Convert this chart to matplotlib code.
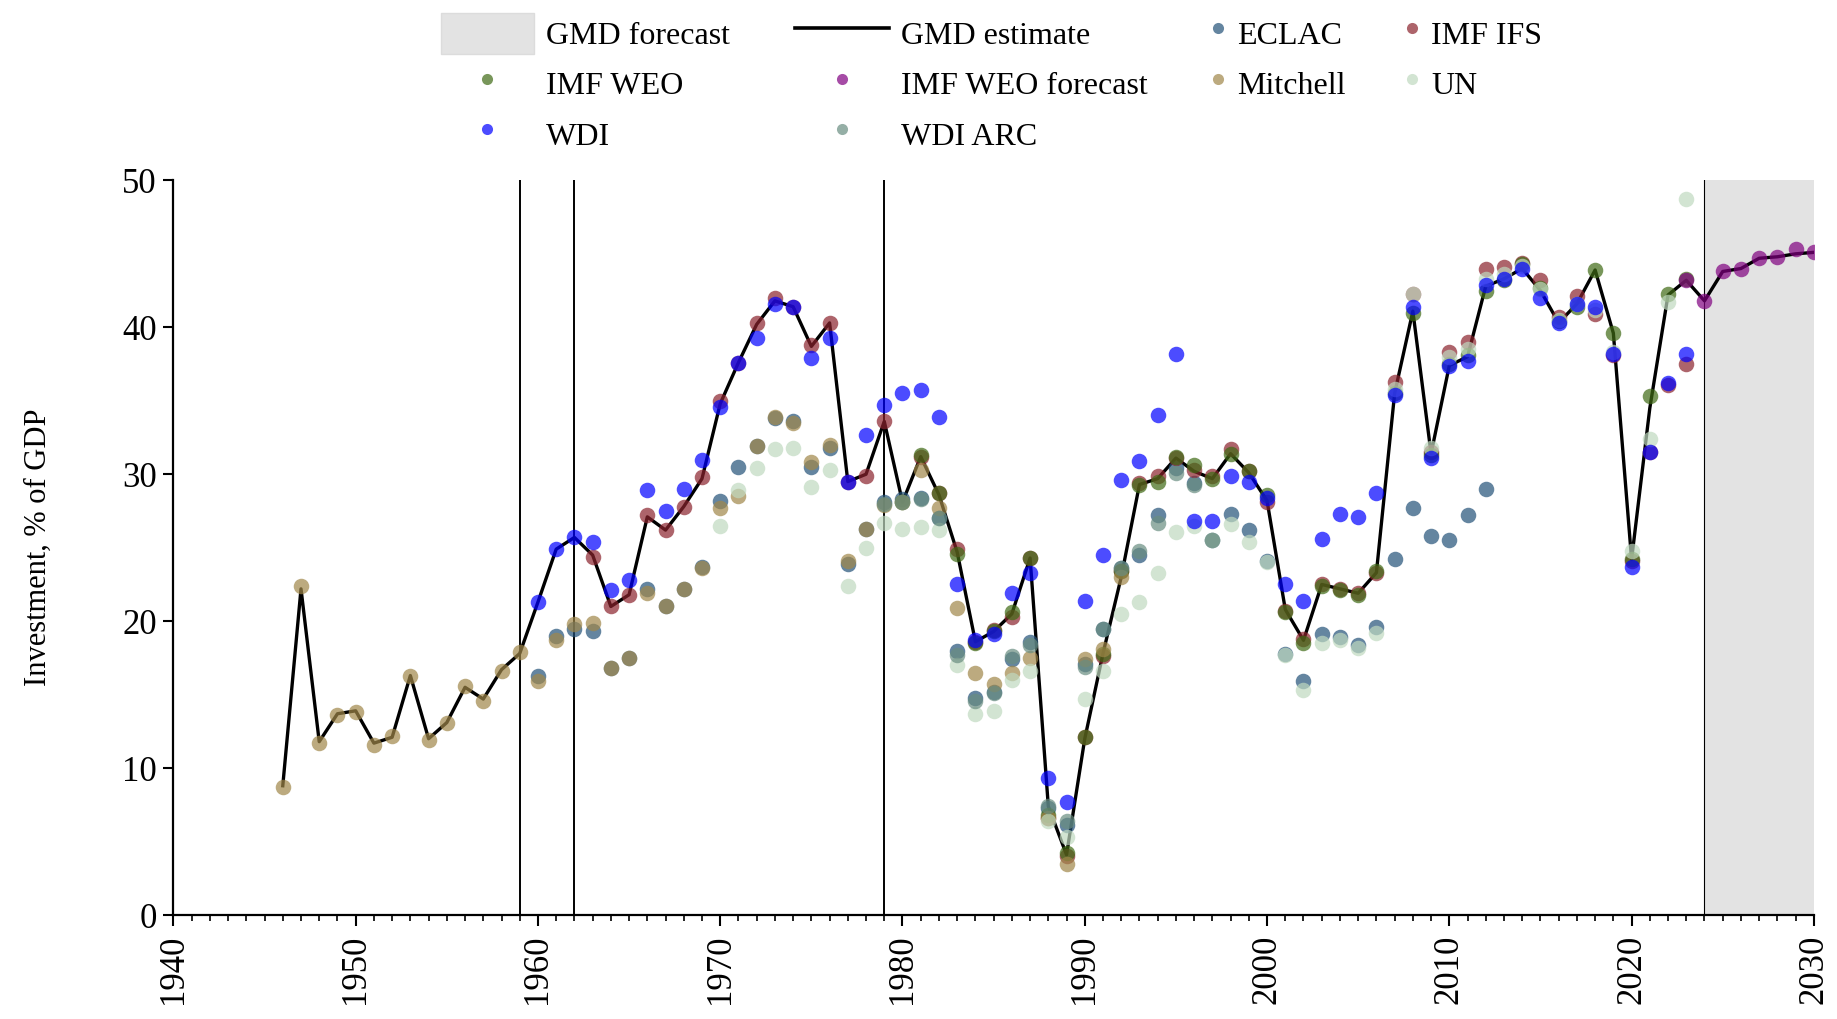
import matplotlib
matplotlib.use("Agg")
import matplotlib.pyplot as plt
from matplotlib.lines import Line2D
from matplotlib.patches import Patch

plt.rcParams["font.family"] = ["Liberation Serif", "DejaVu Serif"]

# -------------------------
# Data (investment, % of GDP)
# -------------------------

gmd_years = list(range(1946, 2031))
gmd_values = [
    8.8, 22.2, 11.8, 13.7, 13.9, 11.7, 12.1, 16.3, 12.0, 13.1,
    15.5, 14.7, 16.7, 17.8, 21.3, 24.9, 25.7, 24.5, 21.0, 21.8,
    27.1, 26.2, 27.8, 29.7, 34.8, 37.6, 40.2, 41.8, 41.4, 38.7,
    40.3, 29.5, 30.0, 33.6, 28.1, 31.2, 28.6, 24.7, 18.6, 19.3,
    20.5, 24.3, 7.4, 4.1, 12.0, 17.8, 23.0, 29.3, 29.7, 31.1,
    30.2, 29.7, 31.4, 30.1, 28.2, 20.8, 18.7, 22.5, 22.2, 21.9,
    23.3, 35.5, 41.1, 31.4, 37.4, 38.0, 42.8, 43.3, 44.0, 42.5,
    40.3, 41.6, 43.9, 39.6, 24.2, 34.5, 42.2, 43.2, 41.8, 43.8,
    44.0, 44.7, 44.8, 45.0, 45.1,
]

eclac_years = list(range(1960, 2013))
eclac_values = [
    16.3, 19.0, 19.5, 19.3, 16.8, 17.5, 22.2, 21.0, 22.2, 23.7,
    28.2, 30.5, 31.9, 33.8, 33.6, 30.5, 31.8, 23.9, 26.3, 28.1,
    28.3, 28.4, 27.0, 18.0, 14.8, 15.2, 17.4, 18.6, 7.3, 6.1,
    17.1, 19.5, 23.6, 24.5, 27.2, 30.4, 29.4, 25.5, 27.3, 26.2,
    24.1, 17.8, 15.9, 19.1, 18.9, 18.4, 19.6, 24.2, 27.7, 25.8,
    25.5, 27.2, 29.0,
]

ifs_years = [1963, 1964, 1965, 1966, 1967, 1968, 1969, 1970, 1971, 1972,
             1973, 1974, 1975, 1976, 1977, 1978, 1979] + list(range(1981, 2024))
ifs_values = [
    24.4, 21.0, 21.8, 27.2, 26.2, 27.8, 29.8, 35.0, 37.6, 40.3,
    42.0, 41.4, 38.8, 40.3, 29.5, 29.9, 33.6,
    31.2, 28.7, 24.9, 18.6, 19.4, 20.3, 24.3, 6.6, 4.0, 12.1,
    17.6, 23.4, 29.4, 29.9, 31.1, 30.3, 29.9, 31.7, 30.2, 28.1,
    20.7, 18.8, 22.5, 22.2, 21.9, 23.3, 36.3, 42.3, 31.5, 38.3,
    39.0, 44.0, 44.1, 44.4, 43.2, 40.7, 42.1, 40.9, 38.1, 24.1,
    31.5, 36.1, 37.5,
]

weo_years = list(range(1980, 2024))
weo_values = [
    28.1, 31.3, 28.7, 24.6, 18.5, 19.3, 20.6, 24.3, 6.8, 4.2,
    12.1, 17.8, 23.4, 29.3, 29.5, 31.2, 30.6, 29.7, 31.4, 30.2,
    28.6, 20.6, 18.5, 22.4, 22.1, 21.8, 23.4, 35.5, 41.0, 31.3,
    37.5, 38.1, 42.5, 43.2, 44.3, 42.7, 40.4, 41.4, 43.9, 39.6,
    24.2, 35.3, 42.3, 43.3,
]

weo_fc_years = list(range(2023, 2031))
weo_fc_values = [43.2, 41.8, 43.8, 44.0, 44.7, 44.8, 45.3, 45.1]

mitchell_years = list(range(1946, 1993))
mitchell_values = [
    8.7, 22.4, 11.7, 13.6, 13.8, 11.6, 12.2, 16.3, 11.9, 13.1,
    15.6, 14.6, 16.6, 17.9, 15.9, 18.7, 19.8, 19.9, 16.8, 17.5,
    21.9, 21.0, 22.2, 23.6, 27.7, 28.5, 31.9, 33.9, 33.5, 30.8,
    32.0, 24.1, 26.3, 27.9, 28.1, 30.3, 27.7, 20.9, 16.5, 15.7,
    16.5, 17.5, 6.6, 3.5, 17.4, 18.1, 23.0,
]

un_years = list(range(1970, 2024))
un_values = [
    26.5, 28.9, 30.4, 31.7, 31.8, 29.1, 30.3, 22.4, 25.0, 26.7,
    26.3, 26.4, 26.2, 17.0, 13.7, 13.9, 16.0, 16.6, 6.4, 5.3,
    14.7, 16.6, 20.5, 21.3, 23.3, 26.1, 26.5, 25.5, 26.6, 25.4,
    24.0, 17.7, 15.3, 18.5, 18.7, 18.2, 19.2, 35.8, 42.3, 31.8,
    38.0, 38.5, 43.3, 43.6, 44.2, 42.6, 40.5, 41.6, 41.2, 38.3,
    24.8, 32.4, 41.7, 48.7,
]

wdi_years = list(range(1960, 2024))
wdi_values = [
    21.3, 24.9, 25.7, 25.4, 22.1, 22.8, 28.9, 27.5, 29.0, 31.0,
    34.6, 37.6, 39.3, 41.6, 41.4, 37.9, 39.3, 29.5, 32.7, 34.7,
    35.5, 35.7, 33.9, 22.5, 18.7, 19.1, 21.9, 23.3, 9.3, 7.7,
    21.4, 24.5, 29.6, 30.9, 34.0, 38.2, 26.8, 26.8, 29.9, 29.5,
    28.4, 22.5, 21.4, 25.6, 27.3, 27.1, 28.7, 35.4, 41.4, 31.1,
    37.4, 37.7, 42.9, 43.3, 44.0, 42.0, 40.3, 41.6, 41.4, 38.2,
    23.7, 31.5, 36.2, 38.2,
]

wdi_arc_years = list(range(1979, 1998))
wdi_arc_values = [
    28.0, 28.1, 28.3, 27.0, 17.7, 14.6, 15.1, 17.6, 18.4, 7.4,
    6.4, 16.9, 19.5, 23.6, 24.8, 26.7, 30.1, 29.3, 25.5,
]

break_years = [1959, 1962, 1979]
forecast_start = 2024
forecast_end = 2030

# -------------------------
# Plot
# -------------------------

fig = plt.figure(figsize=(18.37, 10.19), dpi=100)
ax = fig.add_axes([0.0944, 0.102, 0.893, 0.721])

ax.axvspan(forecast_start, forecast_end, color="#e3e3e3", lw=0, zorder=0)
ax.axvline(forecast_start, color="black", lw=0.8, zorder=1)
for yr in break_years:
    ax.axvline(yr, color="black", lw=1.4, zorder=1)

ax.plot(gmd_years, gmd_values, color="black", lw=2.4, zorder=2)

series = [
    ("ECLAC", eclac_years, eclac_values, "#235178"),
    ("IMF IFS", ifs_years, ifs_values, "#8b232d"),
    ("IMF WEO", weo_years, weo_values, "#3f6a14"),
    ("IMF WEO forecast", weo_fc_years, weo_fc_values, "#800080"),
    ("Mitchell", mitchell_years, mitchell_values, "#a08749"),
    ("UN", un_years, un_values, "#bfd9bf"),
    ("WDI", wdi_years, wdi_values, "#0000ff"),
    ("WDI ARC", wdi_arc_years, wdi_arc_values, "#698d80"),
]

for name, xs, ys, col in series:
    ax.scatter(xs, ys, s=125, color=col, alpha=0.7, lw=0, zorder=3)

ax.set_xlim(1940, 2030)
ax.set_ylim(0, 50)
ax.set_xticks(range(1940, 2031, 10))
ax.set_xticks(range(1940, 2031), minor=True)
ax.set_yticks(range(0, 51, 10))
ax.tick_params(axis="x", which="major", labelsize=25, length=8, width=1.5,
               rotation=90, pad=6)
ax.tick_params(axis="x", which="minor", length=4, width=1.2)
ax.tick_params(axis="y", which="major", labelsize=25, length=7, width=1.5, pad=5)

for side in ["top", "right"]:
    ax.spines[side].set_visible(False)
for side in ["left", "bottom"]:
    ax.spines[side].set_linewidth(1.6)

ax.set_ylabel("Investment, % of GDP", fontsize=22, labelpad=50)

# -------------------------
# Legend: one block per column
# -------------------------

colors = {name: col for name, xs, ys, col in series}


def dot(name):
    return Line2D([], [], ls="none", marker="o", markersize=8,
                  markerfacecolor=colors[name], markeredgewidth=0, alpha=0.7)


columns = [
    (0.2398, 2.94, [(Patch(facecolor="#e3e3e3", edgecolor="#dcdcdc"), "GMD forecast"),
                    (dot("IMF WEO"), "IMF WEO"),
                    (dot("WDI"), "WDI")]),
    (0.4330, 2.94, [(Line2D([], [], color="black", lw=2.6), "GMD estimate"),
                    (dot("IMF WEO forecast"), "IMF WEO forecast"),
                    (dot("WDI ARC"), "WDI ARC")]),
    (0.6587, 0.5, [(dot("ECLAC"), "ECLAC"),
                   (dot("Mitchell"), "Mitchell")]),
    (0.7643, 0.5, [(dot("IMF IFS"), "IMF IFS"),
                   (dot("UN"), "UN")]),
]

for x0, hlen, entries in columns:
    fig.legend([h for h, t in entries], [t for h, t in entries],
               loc="upper left", bbox_to_anchor=(x0, 0.9875),
               bbox_transform=fig.transFigure, frameon=False, fontsize=23,
               handlelength=hlen, handleheight=1.6, handletextpad=0.36,
               labelspacing=0.3, borderpad=0, borderaxespad=0)

fig.savefig("out.png", dpi=100)
